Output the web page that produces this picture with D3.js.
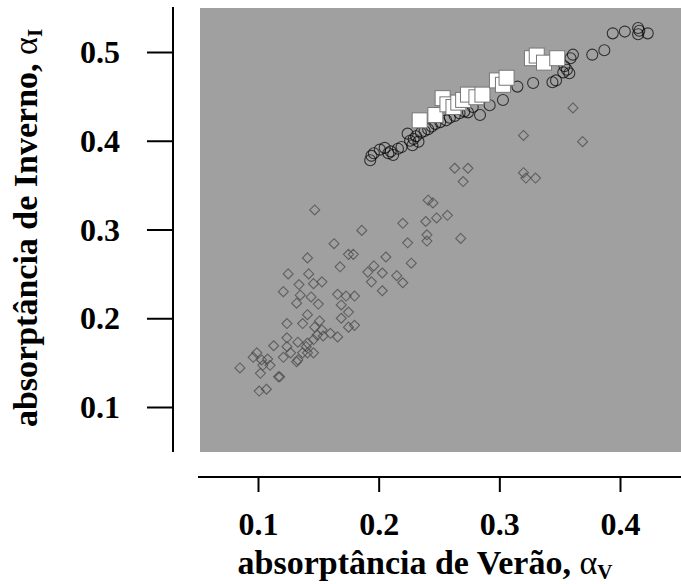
<!DOCTYPE html>
<html>
<head>
<meta charset="utf-8">
<script src="https://cdn.jsdelivr.net/npm/d3@7"></script>
<style>
  body { margin: 0; background: #fff; }
  text { font-family: "Liberation Serif", "Times New Roman", serif; font-weight: bold; fill: #000; }
</style>
</head>
<body>
<div id="chart"></div>
<script>
// x tick values / y tick values
let xTicks = [0.1, 0.2, 0.3, 0.4];
let yTicks = [0.1, 0.2, 0.3, 0.4, 0.5];

// series 1: open circles [verao, inverno]
let circlePts = [
  [0.193, 0.378], [0.194, 0.383], [0.196, 0.386], [0.201, 0.390], [0.205, 0.392],
  [0.208, 0.386], [0.210, 0.388], [0.212, 0.384], [0.216, 0.391], [0.219, 0.393],
  [0.224, 0.408], [0.226, 0.400], [0.228, 0.395], [0.229, 0.402], [0.231, 0.405],
  [0.233, 0.399], [0.235, 0.409], [0.238, 0.411], [0.241, 0.413], [0.244, 0.416],
  [0.247, 0.419], [0.251, 0.421], [0.256, 0.423], [0.259, 0.426], [0.263, 0.428],
  [0.267, 0.431], [0.271, 0.433], [0.274, 0.432], [0.278, 0.438], [0.284, 0.429],
  [0.292, 0.440], [0.303, 0.446], [0.315, 0.461], [0.328, 0.465], [0.344, 0.466],
  [0.347, 0.468], [0.353, 0.477], [0.356, 0.480], [0.358, 0.476], [0.354, 0.484],
  [0.361, 0.497], [0.359, 0.493], [0.377, 0.497], [0.387, 0.502], [0.394, 0.521],
  [0.404, 0.523], [0.415, 0.527], [0.415, 0.520], [0.423, 0.521], [0.416, 0.524]
];

// series 2: white squares
let squarePts = [
  [0.234, 0.423], [0.247, 0.429], [0.253, 0.448], [0.257, 0.441], [0.262, 0.438],
  [0.266, 0.443], [0.270, 0.446], [0.274, 0.452], [0.281, 0.449], [0.286, 0.452],
  [0.298, 0.468], [0.303, 0.463], [0.306, 0.471], [0.327, 0.493], [0.331, 0.496],
  [0.337, 0.488], [0.348, 0.493]
];

// series 3: grey diamonds
let diamondPts = [
  [0.147, 0.322], [0.186, 0.299], [0.220, 0.307], [0.239, 0.309], [0.241, 0.333],
  [0.224, 0.285], [0.240, 0.294], [0.240, 0.287], [0.163, 0.284], [0.175, 0.272],
  [0.179, 0.272], [0.141, 0.268], [0.206, 0.269], [0.168, 0.258], [0.227, 0.262],
  [0.196, 0.259], [0.191, 0.252], [0.203, 0.251], [0.125, 0.250], [0.142, 0.250],
  [0.194, 0.241], [0.215, 0.248], [0.220, 0.240], [0.153, 0.241], [0.146, 0.239],
  [0.134, 0.238], [0.121, 0.230], [0.203, 0.231], [0.135, 0.226], [0.144, 0.224],
  [0.166, 0.227], [0.173, 0.225], [0.180, 0.225], [0.132, 0.217], [0.150, 0.216],
  [0.169, 0.215], [0.175, 0.207], [0.141, 0.204], [0.169, 0.200], [0.175, 0.190],
  [0.180, 0.192], [0.124, 0.194], [0.137, 0.194], [0.151, 0.197], [0.147, 0.190],
  [0.153, 0.187], [0.160, 0.183], [0.166, 0.179], [0.154, 0.180], [0.149, 0.181],
  [0.124, 0.178], [0.133, 0.173], [0.141, 0.172], [0.146, 0.176], [0.113, 0.169],
  [0.124, 0.168], [0.140, 0.168], [0.127, 0.161], [0.137, 0.161], [0.146, 0.161],
  [0.121, 0.156], [0.132, 0.151], [0.133, 0.153], [0.141, 0.161], [0.099, 0.161],
  [0.096, 0.156], [0.103, 0.153], [0.108, 0.154], [0.104, 0.147], [0.110, 0.147],
  [0.085, 0.144], [0.102, 0.138], [0.117, 0.134], [0.118, 0.134], [0.101, 0.118],
  [0.107, 0.120],
  [0.263, 0.369], [0.274, 0.369], [0.270, 0.354], [0.245, 0.330], [0.257, 0.316],
  [0.248, 0.313], [0.268, 0.290], [0.361, 0.437], [0.369, 0.399], [0.320, 0.406],
  [0.320, 0.364], [0.322, 0.358], [0.330, 0.358]
];

let W = 681, H = 584;

let svg = d3.select('#chart').append('svg')
  .attr('width', W)
  .attr('height', H);

let x = d3.scaleLinear().domain([0.1, 0.4]).range([258, 620]);
let y = d3.scaleLinear().domain([0.1, 0.5]).range([407, 52]);

// plot background
svg.append('rect')
  .attr('x', 200).attr('y', 8)
  .attr('width', W - 200).attr('height', 444)
  .attr('fill', '#a0a0a0');

// diamonds
let dr = 5;
svg.append('g').selectAll('path')
  .data(diamondPts)
  .enter().append('path')
  .attr('d', function(d) {
    let cx = x(d[0]), cy = y(d[1]);
    return 'M' + cx + ',' + (cy - dr) + 'L' + (cx + dr) + ',' + cy + 'L' + cx + ',' + (cy + dr) + 'L' + (cx - dr) + ',' + cy + 'Z';
  })
  .attr('fill', 'none')
  .attr('stroke', '#4a4a4a')
  .attr('stroke-opacity', 0.75)
  .attr('stroke-width', 1.1);

// circles
svg.append('g').selectAll('circle')
  .data(circlePts)
  .enter().append('circle')
  .attr('cx', function(d) { return x(d[0]); })
  .attr('cy', function(d) { return y(d[1]); })
  .attr('r', 5.5)
  .attr('fill', 'none')
  .attr('stroke', '#000')
  .attr('stroke-opacity', 0.7)
  .attr('stroke-width', 1.1);

// squares
let ss = 15;
svg.append('g').selectAll('rect')
  .data(squarePts)
  .enter().append('rect')
  .attr('x', function(d) { return x(d[0]) - ss / 2; })
  .attr('y', function(d) { return y(d[1]) - ss / 2; })
  .attr('width', ss).attr('height', ss)
  .attr('fill', '#fff')
  .attr('stroke', '#777')
  .attr('stroke-width', 1);

// y axis
let yAxis = d3.axisLeft(y).tickValues(yTicks).tickFormat(d3.format('.1f'))
  .tickSize(26).tickPadding(27).tickSizeOuter(0);
let gy = svg.append('g').attr('transform', 'translate(173,0)').call(yAxis);
gy.select('.domain').remove();
gy.selectAll('.tick line').attr('stroke', '#000').attr('stroke-width', 2);
gy.selectAll('.tick text').attr('font-size', 32).attr('dy', '0.33em')
  .style('font-family', '"Liberation Serif", serif').style('font-weight', 'bold');
gy.append('line').attr('x1', 0).attr('x2', 0).attr('y1', 7).attr('y2', 452)
  .attr('stroke', '#000').attr('stroke-width', 2);

// x axis
let xAxis = d3.axisBottom(x).tickValues(xTicks).tickFormat(d3.format('.1f'))
  .tickSize(15).tickSizeOuter(0);
let gx = svg.append('g').attr('transform', 'translate(0,477)').call(xAxis);
gx.select('.domain').remove();
gx.selectAll('.tick line').attr('stroke', '#000').attr('stroke-width', 2);
gx.selectAll('.tick text').attr('font-size', 32).attr('y', 58).attr('dy', 0)
  .style('font-family', '"Liberation Serif", serif').style('font-weight', 'bold');
gx.append('line').attr('x1', 198).attr('x2', W).attr('y1', 0).attr('y2', 0)
  .attr('stroke', '#000').attr('stroke-width', 2);

// axis titles
let xt = svg.append('text')
  .attr('x', 425).attr('y', 574)
  .attr('text-anchor', 'middle')
  .attr('font-size', 34);
xt.append('tspan').text('absorptância de Verão, ');
xt.append('tspan').attr('font-weight', 'normal').text('α');
xt.append('tspan').attr('font-size', 21).attr('dy', 5).text('V');

let yt = svg.append('text')
  .attr('transform', 'translate(37,228) rotate(-90)')
  .attr('text-anchor', 'middle')
  .attr('font-size', 34);
yt.append('tspan').text('absorptância de Inverno, ');
yt.append('tspan').attr('font-weight', 'normal').text('α');
yt.append('tspan').attr('font-size', 21).attr('dy', 5).text('I');
</script>
</body>
</html>
